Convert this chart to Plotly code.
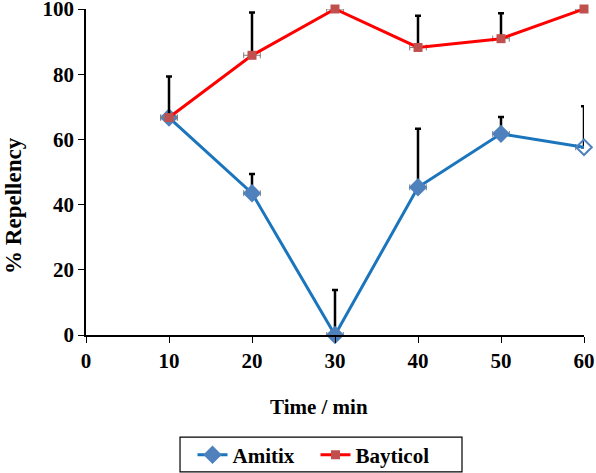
import plotly.graph_objects as go

time_min = [10, 20, 30, 40, 50, 60]
amitix = [66.7, 43.5, 0.0, 45.3, 61.7, 57.6]
amitix_err = [None, 5.9, 13.8, 18.0, 5.2, 12.6]
bayticol = [66.7, 85.8, 100.0, 88.2, 90.9, 100.0]
bayticol_err = [12.6, 13.1, None, 9.7, 7.8, None]
x_ticks = [0, 10, 20, 30, 40, 50, 60]
y_ticks = [0, 20, 40, 60, 80, 100]

FONT = "Liberation Serif"
amitix_symbols = ["diamond"] * 5 + ["diamond-open"]

fig = go.Figure()
fig.add_trace(go.Scatter(
    x=time_min, y=amitix, name="Amitix", mode="lines+markers", cliponaxis=False,
    line=dict(color="#1B75BC", width=3),
    marker=dict(symbol=amitix_symbols, size=12, color="#4F81BD",
                line=dict(color="#4F81BD", width=2)),
    error_y=dict(type="data", array=amitix_err, symmetric=False, arrayminus=[0]*6,
                 color="black", thickness=2.5, width=3),
    error_x=dict(type="constant", value=1, color="#7f7f7f", thickness=1, width=3),
))
fig.add_trace(go.Scatter(
    x=time_min, y=bayticol, name="Bayticol", mode="lines+markers", cliponaxis=False,
    line=dict(color="#FF0000", width=3),
    marker=dict(symbol="square", size=9, color="#C0504D"),
    error_y=dict(type="data", array=bayticol_err, symmetric=False, arrayminus=[0]*6,
                 color="black", thickness=2.5, width=3),
    error_x=dict(type="constant", value=1, color="#7f7f7f", thickness=1, width=3),
))

fig.update_layout(
    width=596, height=473, autosize=False,
    margin=dict(l=86, r=12, t=9, b=138),
    paper_bgcolor="white", plot_bgcolor="white",
    font=dict(family=FONT, size=21, color="black"),
    showlegend=True,
    legend=dict(orientation="h", xref="container", yref="container",
                x=0.323, xanchor="left", y=0.038, yanchor="middle",
                entrywidth=78, entrywidthmode="pixels",
                bgcolor="rgba(0,0,0,0)", borderwidth=0,
                font=dict(family=FONT, size=21, color="black", weight="bold")),
    shapes=[dict(type="rect", xref="paper", yref="paper",
                 x0=0.1888, x1=0.755, y0=-0.420, y1=-0.313,
                 line=dict(color="black", width=1.2))],
    annotations=[
        dict(text="Time / min", xref="paper", yref="paper", x=0.467, y=-0.221,
             xanchor="center", yanchor="middle", showarrow=False,
             font=dict(family=FONT, size=21, weight="bold")),
        dict(text="% Repellency", xref="paper", yref="paper", x=-0.1446, y=0.399,
             xanchor="center", yanchor="middle", showarrow=False, textangle=-90,
             font=dict(family=FONT, size=23, weight="bold")),
    ],
    xaxis=dict(range=[0, 60], tickvals=x_ticks, showline=True, linecolor="black", linewidth=1.5,
               ticks="outside", ticklen=6, tickcolor="black", showgrid=False, zeroline=False,
               ticklabeloverflow="allow", automargin=False,
               tickfont=dict(family=FONT, size=21, weight="bold")),
    yaxis=dict(range=[0, 100], tickvals=y_ticks, showline=True, linecolor="black", linewidth=1.5,
               ticks="outside", ticklen=6, tickcolor="black", showgrid=False, zeroline=False,
               ticklabeloverflow="allow", automargin=False,
               tickfont=dict(family=FONT, size=21, weight="bold")),
)

fig.write_html("out.html", post_script="document.body.style.margin='0';",
               config={"displayModeBar": False})
